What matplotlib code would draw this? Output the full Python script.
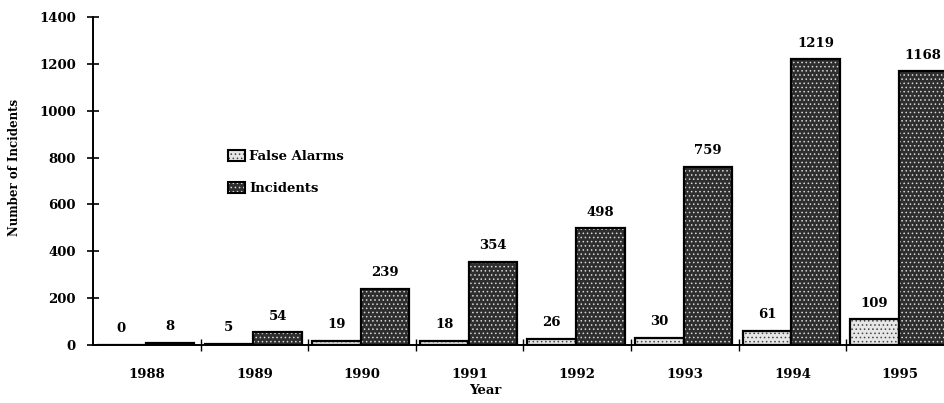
import matplotlib.pyplot as plt
import numpy as np
from matplotlib.patches import Patch

years = ["1988", "1989", "1990", "1991", "1992", "1993", "1994", "1995"]
false_alarms = [0, 5, 19, 18, 26, 30, 61, 109]
incidents = [8, 54, 239, 354, 498, 759, 1219, 1168]

fnt = "DejaVu Serif"
fs = 9.5

fig = plt.figure(figsize = (9.44, 4.03), dpi = 100)
ax = fig.add_axes([93 / 944, 58 / 403, 1 - 93 / 944, 328 / 403])

x = np.arange(len(years))
w = 0.45
xf = x - 0.237
xi = x + 0.216

# dotted fills, outline drawn on top as a separate layer
fa_fc, fa_hc = "#e6e6e6", "#444444"
in_fc, in_hc = "#2e2e2e", "#d8d8d8"
plt.rcParams["hatch.linewidth"] = 0.6
ax.bar(xf, false_alarms, w, color = fa_fc, edgecolor = fa_hc, hatch = "....", lw = 0)
ax.bar(xf, false_alarms, w, fill = False, edgecolor = "black", lw = 1.6)
ax.bar(xi, incidents, w, color = in_fc, edgecolor = in_hc, hatch = "....", lw = 0)
ax.bar(xi, incidents, w, fill = False, edgecolor = "black", lw = 1.6)

for xs, vals in [(xf, false_alarms), (xi, incidents)]:
	for xx, v in zip(xs, vals):
		ax.annotate(str(v), (xx, v), xytext = (0, 7), textcoords = "offset points",
			ha = "center", va = "bottom", fontsize = fs, family = fnt, weight = "bold",
			annotation_clip = False)

ax.set_xlim(-0.5, (944 - 93) / 107.6 - 0.5)
ax.set_ylim(0, 1400)
ax.set_yticks(np.arange(0, 1401, 200))
ax.set_xticks(x[:-1] + 0.5)
ax.set_xticklabels([])
for xx, yr in zip(x, years):
	ax.text(xx, -0.07, yr, transform = ax.get_xaxis_transform(), ha = "center", va = "top",
		fontsize = fs, family = fnt, weight = "bold")

ax.spines["top"].set_visible(False)
ax.spines["right"].set_visible(False)
ax.spines["left"].set_linewidth(1.4)
ax.spines["bottom"].set_linewidth(1.4)
ax.tick_params(axis = "y", direction = "inout", length = 9, width = 1.2, pad = 8, labelsize = fs)
ax.tick_params(axis = "x", direction = "inout", length = 8, width = 1.0)
for lab in ax.get_yticklabels():
	lab.set_family(fnt)
	lab.set_weight("bold")

ax.set_xlabel("Year", fontsize = fs, family = fnt, weight = "bold")
ax.xaxis.set_label_coords((485 - 93) / 851, -0.12)
ax.set_ylabel("Number of Incidents", fontsize = 8.5, family = fnt, weight = "bold")
ax.yaxis.set_label_coords(-0.085, 0.54)

h_fa = (Patch(facecolor = fa_fc, edgecolor = fa_hc, hatch = "....", lw = 0),
	Patch(fill = False, edgecolor = "black", lw = 1.5))
h_in = (Patch(facecolor = in_fc, edgecolor = in_hc, hatch = "....", lw = 0),
	Patch(fill = False, edgecolor = "black", lw = 1.5))
ax.legend([h_fa, h_in], ["False Alarms", "Incidents"], loc = "upper left",
	bbox_to_anchor = (0.145, 0.63), frameon = False, handlelength = 1.3, handleheight = 0.9,
	handletextpad = 0.3, labelspacing = 1.4, prop = {"family": fnt, "weight": "bold", "size": fs})

fig.savefig("out.png", dpi = 100)
